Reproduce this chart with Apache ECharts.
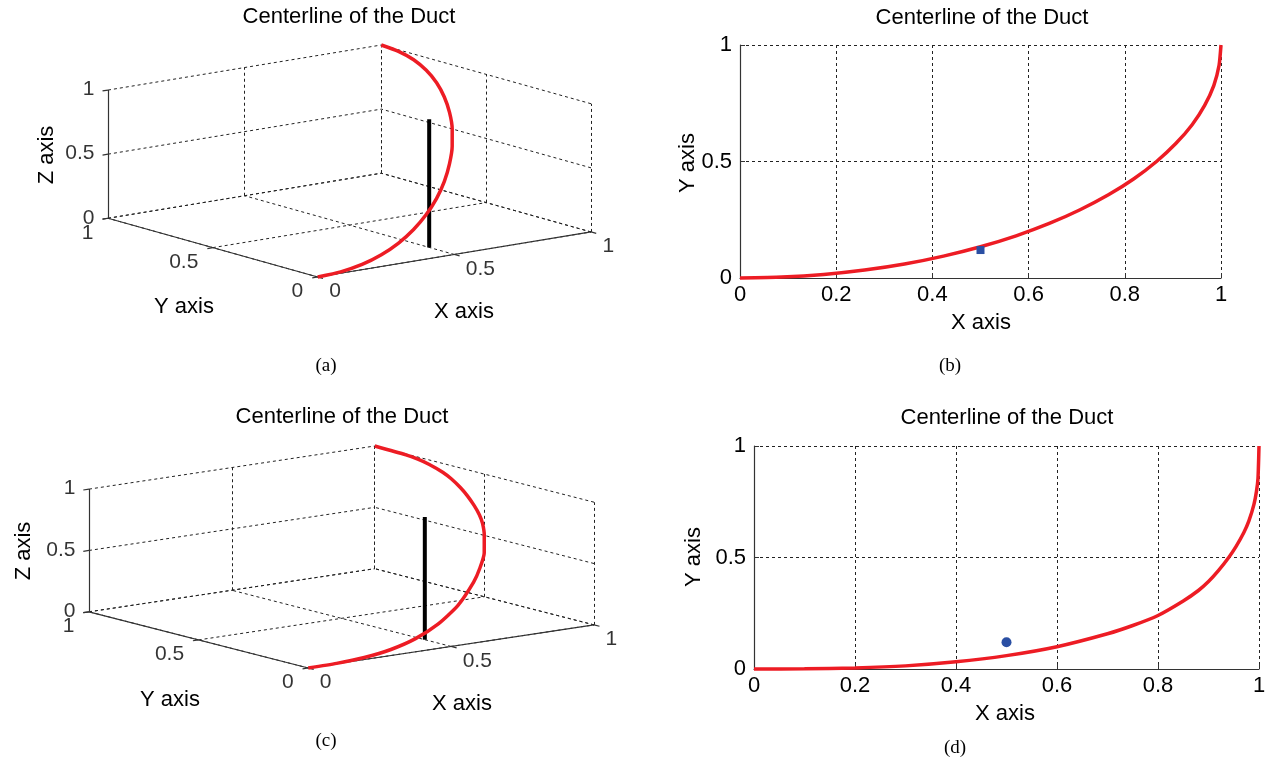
<!DOCTYPE html>
<html>
<head>
<meta charset="utf-8">
<title>Centerline of the Duct</title>
<script src="https://cdn.jsdelivr.net/npm/echarts@6/dist/echarts.min.js"></script>
<style>
html, body { margin: 0; padding: 0; background: #fff; }
#main { width: 1268px; height: 764px; }
</style>
</head>
<body>
<div id="main"></div>
<script>
// centerline (a) / (b)
var ductXab = [0, 0.087, 0.174, 0.259, 0.342, 0.423, 0.5, 0.574, 0.643, 0.707, 0.766, 0.819, 0.866, 0.906, 0.940, 0.966, 0.985, 0.996, 1]
var ductYab = [0, 0.004, 0.015, 0.034, 0.060, 0.094, 0.134, 0.181, 0.234, 0.293, 0.357, 0.426, 0.5, 0.577, 0.658, 0.741, 0.826, 0.913, 1]
var ductZab = [0, 0.008, 0.030, 0.067, 0.117, 0.179, 0.25, 0.329, 0.413, 0.5, 0.587, 0.671, 0.75, 0.821, 0.883, 0.933, 0.970, 0.992, 1]

// centerline (c) / (d)
var ductXcd = [0, 0.1, 0.2, 0.3, 0.4, 0.5, 0.6, 0.7, 0.75, 0.8, 0.85, 0.88, 0.9, 0.92, 0.94, 0.955, 0.97, 0.98, 0.99, 0.995, 0.998, 1]
var ductYcd = [0, 0.001, 0.005, 0.014, 0.032, 0.060, 0.100, 0.158, 0.195, 0.240, 0.305, 0.352, 0.392, 0.442, 0.500, 0.551, 0.612, 0.664, 0.738, 0.797, 0.855, 1]
var ductZcd = [0, 0.002, 0.013, 0.039, 0.084, 0.154, 0.252, 0.382, 0.460, 0.547, 0.645, 0.708, 0.752, 0.798, 0.846, 0.883, 0.921, 0.947, 0.973, 0.987, 0.995, 1]

// probe point (blue marker) and the vertical black line through it
var probeX = 0.5
var probeY = 0.12
var probeZ = [0, 1]

// tick values
var ticks3d = [0, 0.5, 1]
var xTicks2d = [0, 0.2, 0.4, 0.6, 0.8, 1]
var yTicks2d = [0, 0.5, 1]

var RED = '#ed1c24'
var BLUE = '#2a4fa3'
var SANS = '"Liberation Sans", Arial, sans-serif'
var SERIF = '"Liberation Serif", "Times New Roman", serif'

// view of the 3d plots (az -37.5, el 30)
var AZ = 37.5 * Math.PI / 180
var EL = 30 * Math.PI / 180
function proj(x, y, z) {
  return [
    x * Math.cos(AZ) - y * Math.sin(AZ),
    (x * Math.sin(AZ) + y * Math.cos(AZ)) * Math.sin(EL) + z * Math.cos(EL)
  ]
}
var uMin = proj(0, 1, 0)[0]
var uMax = proj(1, 0, 0)[0]
var vMax = proj(1, 1, 1)[1]

function boxGrid() {
  var segs = []
  ticks3d.forEach(function (t) {
    segs.push([[t, 0, 0], [t, 1, 0]])
    segs.push([[0, t, 0], [1, t, 0]])
    segs.push([[t, 1, 0], [t, 1, 1]])
    segs.push([[0, 1, t], [1, 1, t]])
    segs.push([[1, t, 0], [1, t, 1]])
    segs.push([[1, 0, t], [1, 1, t]])
  })
  return segs
}

function boxAxes() {
  var segs = [
    [[0, 0, 0], [1, 0, 0]],
    [[0, 0, 0], [0, 1, 0]],
    [[0, 1, 0], [0, 1, 1]]
  ]
  ticks3d.forEach(function (t) {
    segs.push([[t, 0, 0], [t, -0.025, 0]])
    segs.push([[0, t, 0], [-0.02, t, 0]])
    segs.push([[0, 1, t], [-0.02, 1, t]])
  })
  return segs
}

function segData(segs) {
  return segs.map(function (s) {
    return { coords: [proj(s[0][0], s[0][1], s[0][2]), proj(s[1][0], s[1][1], s[1][2])] }
  })
}

function tickLabels(gi, pts, align, offset) {
  return {
    type: 'scatter',
    xAxisIndex: gi,
    yAxisIndex: gi,
    symbolSize: 1,
    silent: true,
    clip: false,
    itemStyle: { color: 'transparent' },
    data: pts,
    label: {
      show: true,
      formatter: '{b}',
      position: offset,
      align: align,
      verticalAlign: 'middle',
      fontSize: 21,
      fontFamily: SANS,
      color: '#000'
    },
    z: 6
  }
}

function panel3d(gi, xs, ys, zs) {
  var curve = xs.map(function (x, i) { return proj(x, ys[i], zs[i]) })
  return [
    {
      type: 'lines', coordinateSystem: 'cartesian2d', xAxisIndex: gi, yAxisIndex: gi,
      silent: true, clip: false, polyline: false,
      lineStyle: { color: '#222', width: 1, type: [3, 3], opacity: 1, curveness: 0 },
      data: segData(boxGrid()), z: 1
    },
    {
      type: 'lines', coordinateSystem: 'cartesian2d', xAxisIndex: gi, yAxisIndex: gi,
      silent: true, clip: false, polyline: false,
      lineStyle: { color: '#333', width: 1.2, type: 'solid', opacity: 1, curveness: 0 },
      data: segData(boxAxes()), z: 2
    },
    {
      type: 'line', xAxisIndex: gi, yAxisIndex: gi, symbol: 'none', clip: false, silent: true,
      lineStyle: { color: '#000', width: 4 },
      data: probeZ.map(function (z) { return proj(probeX, probeY, z) }), z: 3
    },
    {
      type: 'line', xAxisIndex: gi, yAxisIndex: gi, symbol: 'none', clip: false, silent: true,
      smooth: 0.2,
      lineStyle: { color: RED, width: 3.5 },
      data: curve, z: 4
    },
    tickLabels(gi, ticks3d.map(function (t) { return { name: String(t), value: proj(t, 0, 0) } }), 'left', [12, 15]),
    tickLabels(gi, ticks3d.map(function (t) { return { name: String(t), value: proj(0, t, 0) } }), 'right', [-14, 15]),
    tickLabels(gi, ticks3d.map(function (t) { return { name: String(t), value: proj(0, 1, t) } }), 'right', [-13, 0])
  ]
}

function panel2d(gi, xs, ys, marker, markerSize) {
  return [
    {
      type: 'line', xAxisIndex: gi, yAxisIndex: gi, symbol: 'none', silent: true, clip: false,
      smooth: 0.2,
      lineStyle: { color: RED, width: 3.5 },
      data: xs.map(function (x, i) { return [x, ys[i]] }), z: 3
    },
    {
      type: 'scatter', xAxisIndex: gi, yAxisIndex: gi, silent: true,
      symbol: marker, symbolSize: markerSize,
      itemStyle: { color: BLUE, opacity: 1 },
      data: [[probeX, probeY]], z: 4
    }
  ]
}

function hiddenAxis(gi, min, max) {
  return { gridIndex: gi, type: 'value', min: min, max: max, show: false }
}

function axis2d(gi, ticks, isY) {
  return {
    gridIndex: gi,
    type: 'value',
    min: ticks[0],
    max: ticks[ticks.length - 1],
    interval: ticks[1] - ticks[0],
    axisLine: { show: true, onZero: false, lineStyle: { color: '#333', width: 1.2 } },
    axisTick: { show: true, inside: true, length: 5, lineStyle: { color: '#333' } },
    axisLabel: { fontSize: 22, fontFamily: SANS, color: '#000', margin: isY ? 8 : 6 },
    splitLine: { show: true, lineStyle: { color: '#222', width: 1, type: [3, 3] } }
  }
}

function text(x, y, str, size, family, rotate) {
  return {
    type: 'text', x: x, y: y, rotation: rotate || 0, silent: true,
    style: {
      text: str, fontSize: size, fontFamily: family, fill: '#000',
      align: 'center', verticalAlign: 'middle',
      textAlign: 'center', textVerticalAlign: 'middle'
    }
  }
}

var myChart = echarts.init(document.getElementById('main'), null, { renderer: 'canvas' })

var option = {
  backgroundColor: '#fff',
  animation: false,
  grid: [
    { left: 108, top: 45, width: 483, height: 232, outerBoundsMode: 'none' },
    { left: 740, top: 45, width: 481, height: 233, outerBoundsMode: 'none' },
    { left: 89, top: 446, width: 505, height: 222, outerBoundsMode: 'none' },
    { left: 754, top: 446, width: 505, height: 223, outerBoundsMode: 'none' }
  ],
  xAxis: [
    hiddenAxis(0, uMin, uMax),
    axis2d(1, xTicks2d, false),
    hiddenAxis(2, uMin, uMax),
    axis2d(3, xTicks2d, false)
  ],
  yAxis: [
    hiddenAxis(0, 0, vMax),
    axis2d(1, yTicks2d, true),
    hiddenAxis(2, 0, vMax),
    axis2d(3, yTicks2d, true)
  ],
  series: [].concat(
    panel3d(0, ductXab, ductYab, ductZab),
    panel2d(1, ductXab, ductYab, 'rect', 8),
    panel3d(2, ductXcd, ductYcd, ductZcd),
    panel2d(3, ductXcd, ductYcd, 'circle', 10)
  ),
  graphic: [
    // titles
    text(349, 17, 'Centerline of the Duct', 22, SANS),
    text(982, 18, 'Centerline of the Duct', 22, SANS),
    text(342, 417, 'Centerline of the Duct', 22, SANS),
    text(1007, 418, 'Centerline of the Duct', 22, SANS),
    // axis names
    text(47, 155, 'Z axis', 22, SANS, Math.PI / 2),
    text(184, 307, 'Y axis', 22, SANS),
    text(464, 312, 'X axis', 22, SANS),
    text(688, 163, 'Y axis', 22, SANS, Math.PI / 2),
    text(981, 323, 'X axis', 22, SANS),
    text(24, 551, 'Z axis', 22, SANS, Math.PI / 2),
    text(170, 700, 'Y axis', 22, SANS),
    text(462, 704, 'X axis', 22, SANS),
    text(694, 557, 'Y axis', 22, SANS, Math.PI / 2),
    text(1005, 714, 'X axis', 22, SANS),
    // captions
    text(326, 366, '(a)', 19, SERIF),
    text(950, 366, '(b)', 19, SERIF),
    text(326, 741, '(c)', 19, SERIF),
    text(955, 748, '(d)', 19, SERIF)
  ]
}

myChart.setOption(option)
window.addEventListener('resize', function () {
  myChart.resize()
})
</script>
</body>
</html>
